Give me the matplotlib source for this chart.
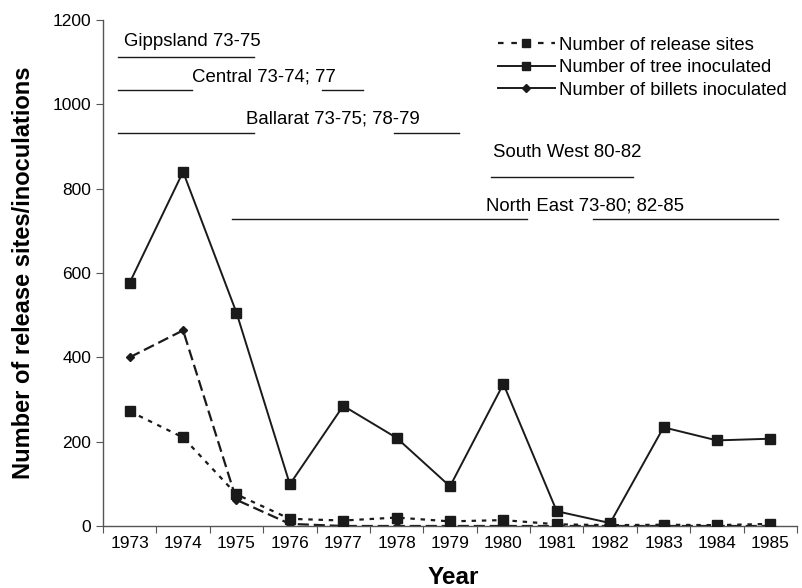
import matplotlib
matplotlib.use("Agg")
import matplotlib.pyplot as plt
from matplotlib.lines import Line2D

years = [1973, 1974, 1975, 1976, 1977, 1978, 1979, 1980, 1981, 1982, 1983, 1984, 1985]
release_sites = [272, 210, 75, 17, 13, 20, 11, 14, 4, 2, 3, 2, 5]
trees_inoculated = [577, 840, 506, 99, 285, 209, 94, 337, 35, 7, 234, 203, 207]
billets_inoculated = [400, 464, 62, 5, 0, 0, 0, 0, 0, 0, 0, 0, 0]

series_labels = ["Number of release sites", "Number of tree inoculated",
                 "Number of billets inoculated"]

# region annotations: (label, text x start, text y, list of line spans (year ranges), line y)
regions = [
    ("Gippsland 73-75", 1972.9, 1148, [(1972.78, 1975.33)], 1112),
    ("Central 73-74; 77", 1974.16, 1066, [(1972.78, 1974.16), (1976.6, 1977.37)], 1033),
    ("Ballarat 73-75; 78-79", 1975.17, 965, [(1972.78, 1975.33), (1977.95, 1979.16)], 932),
    ("South West 80-82", 1979.8, 885, [(1979.77, 1982.42)], 827),
    ("North East 73-80; 82-85", 1979.67, 760, [(1974.92, 1980.45), (1981.67, 1985.14)], 728),
]

plt.rcParams['font.family'] = ['Liberation Sans', 'DejaVu Sans']

fig = plt.figure(figsize=(8.02, 5.88), dpi=100)
ax = fig.add_axes([103/802, 62/588, 694/802, 506/588])

c = '#1a1a1a'
ax.plot(years, release_sites, color=c, lw=1.6, linestyle=(0, (2, 2.6)),
        marker='s', markersize=6.5, zorder=3)
ax.plot(years, trees_inoculated, color=c, lw=1.4, linestyle='-',
        marker='s', markersize=6.5, zorder=3)
ax.plot(years, billets_inoculated, color=c, lw=1.6, linestyle=(0, (5, 2.2)),
        marker='D', markersize=4.5, zorder=2)

for label, tx, ty, spans, ly in regions:
    ax.text(tx, ty, label, fontsize=13.4, color='black', ha='left', va='center')
    for a, b in spans:
        ax.plot([a, b], [ly, ly], color=c, lw=1.0, clip_on=False)

ax.set_xlim(1972.5, 1985.5)
ax.set_ylim(0, 1200)
ax.set_xticks([y + 0.5 for y in [1972] + years])
ax.set_xticklabels([])
ax.set_xticks(years, minor=True)
ax.set_xticklabels([str(y) for y in years], minor=True, fontsize=12.5)
ax.tick_params(axis='x', which='minor', length=0, pad=7)
ax.tick_params(axis='x', which='major', length=5, direction='out', color='#555555')
ax.set_yticks(range(0, 1201, 200))
ax.tick_params(axis='y', labelsize=12.5, length=5, direction='out', color='#555555')
for s in ['top', 'right']:
    ax.spines[s].set_visible(False)
for s in ['left', 'bottom']:
    ax.spines[s].set_color('#555555')
    ax.spines[s].set_linewidth(1.0)

ax.set_ylabel("Number of release sites/inoculations", fontsize=17, fontweight='bold')
ax.yaxis.set_label_coords(-0.098, 0.501)
ax.set_xlabel("Year", fontsize=17.5, fontweight='bold')
ax.xaxis.set_label_coords(0.505, -0.079)

handles = [
    Line2D([], [], color=c, lw=1.6, linestyle=(0, (2.5, 3.5)), marker='s', markersize=6),
    Line2D([], [], color=c, lw=1.4, linestyle='-', marker='s', markersize=6),
    Line2D([], [], color=c, lw=1.4, linestyle='-', marker='D', markersize=4),
]
ax.legend(handles, series_labels, loc='upper left', bbox_to_anchor=(0.545, 1.0),
          frameon=False, fontsize=13.3, handlelength=3.1, handletextpad=0.2,
          labelspacing=0.3)

fig.savefig("out.png", dpi=100)
